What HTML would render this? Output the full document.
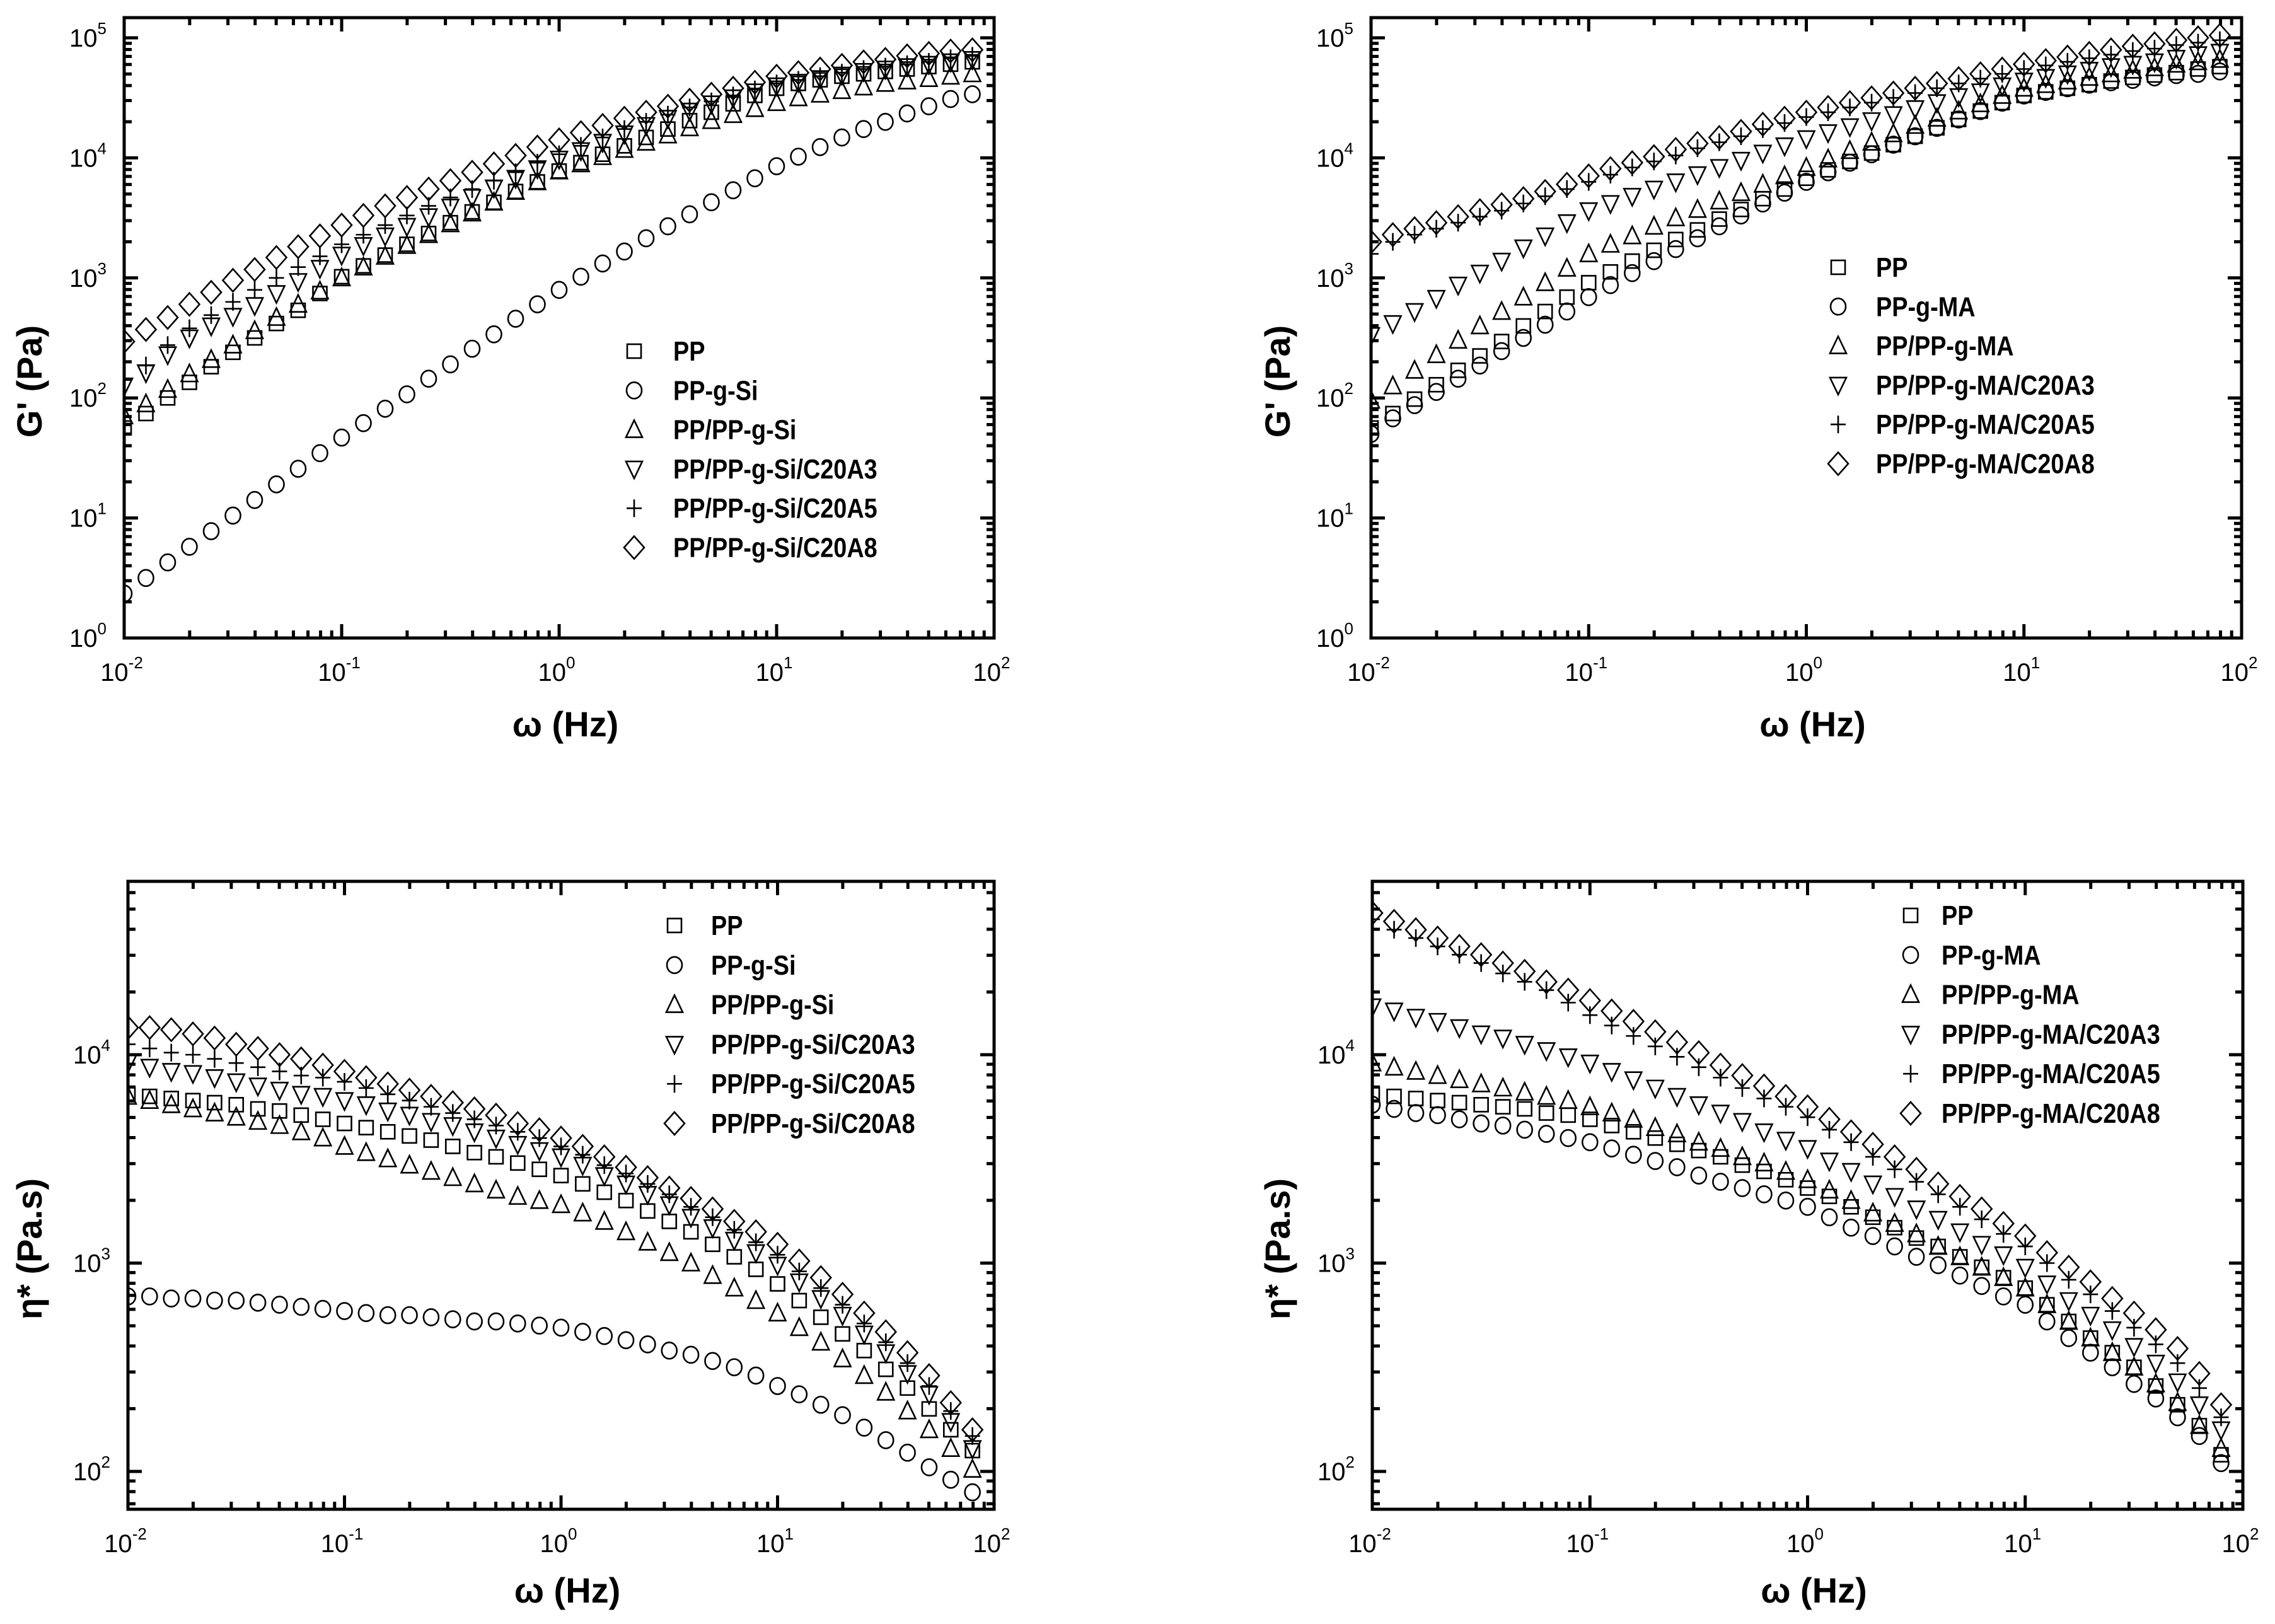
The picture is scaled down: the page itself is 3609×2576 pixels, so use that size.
<!DOCTYPE html>
<html><head><meta charset="utf-8">
<style>
html,body{margin:0;padding:0;background:#fff;}
svg{display:block;}
text{font-family:"Liberation Sans",sans-serif;fill:#000;}
</style></head>
<body>
<svg id="fig" width="3609" height="2576" viewBox="0 0 3609 2576" xmlns="http://www.w3.org/2000/svg"></svg>
<script>
// frequencies (log10 Hz)
const logFreq = [-2.0,-1.9,-1.8,-1.7,-1.6,-1.5,-1.4,-1.3,-1.2,-1.1,-1.0,-0.9,-0.8,-0.7,-0.6,-0.5,-0.4,-0.3,-0.2,-0.1,0.0,0.1,0.2,0.3,0.4,0.5,0.6,0.7,0.8,0.9,1.0,1.1,1.2,1.3,1.4,1.5,1.6,1.7,1.8,1.9];
const xTickExp = [-2,-1,0,1,2];

// Panel A: G' (log10 Pa), PP-g-Si series
const a_PP   = [1.75,1.87,2.0,2.13,2.26,2.38,2.5,2.62,2.73,2.87,3.01,3.1,3.19,3.28,3.37,3.46,3.55,3.63,3.72,3.8,3.89,3.96,4.03,4.1,4.17,4.24,4.31,4.38,4.45,4.52,4.58,4.62,4.65,4.68,4.7,4.72,4.74,4.76,4.78,4.8];
const a_Si   = [0.37,0.5,0.63,0.76,0.89,1.02,1.15,1.28,1.41,1.54,1.67,1.79,1.91,2.03,2.16,2.28,2.41,2.53,2.66,2.78,2.9,3.01,3.12,3.22,3.33,3.43,3.53,3.63,3.73,3.83,3.93,4.01,4.09,4.17,4.24,4.3,4.37,4.43,4.49,4.53];
const a_Bl   = [1.85,1.95,2.07,2.2,2.32,2.44,2.56,2.67,2.78,2.89,3.0,3.09,3.18,3.27,3.36,3.45,3.54,3.63,3.72,3.8,3.89,3.95,4.01,4.07,4.13,4.19,4.25,4.31,4.36,4.41,4.46,4.5,4.53,4.56,4.59,4.62,4.64,4.66,4.68,4.7];
const a_A3   = [2.1,2.21,2.36,2.5,2.6,2.68,2.77,2.87,2.97,3.08,3.19,3.27,3.35,3.43,3.51,3.59,3.67,3.75,3.83,3.91,3.99,4.06,4.13,4.2,4.27,4.33,4.39,4.45,4.5,4.55,4.6,4.63,4.66,4.69,4.72,4.74,4.76,4.78,4.8,4.82];
const a_A5   = [2.15,2.27,2.44,2.58,2.69,2.8,2.9,3.0,3.09,3.18,3.28,3.36,3.44,3.52,3.6,3.67,3.74,3.81,3.88,3.96,4.03,4.1,4.17,4.24,4.3,4.36,4.42,4.47,4.52,4.57,4.62,4.65,4.68,4.71,4.74,4.76,4.78,4.8,4.83,4.85];
const a_A8   = [2.47,2.57,2.67,2.78,2.88,2.98,3.07,3.17,3.26,3.35,3.44,3.52,3.6,3.67,3.74,3.81,3.88,3.95,4.02,4.09,4.15,4.21,4.27,4.33,4.38,4.43,4.48,4.53,4.58,4.63,4.68,4.71,4.74,4.77,4.8,4.82,4.85,4.87,4.89,4.9];

// Panel B: G' (log10 Pa), PP-g-MA series
const b_PP   = [1.75,1.87,1.99,2.11,2.23,2.35,2.47,2.6,2.72,2.84,2.96,3.05,3.14,3.23,3.32,3.4,3.49,3.57,3.66,3.74,3.83,3.9,3.97,4.04,4.11,4.18,4.25,4.32,4.39,4.46,4.52,4.55,4.58,4.61,4.64,4.67,4.69,4.71,4.74,4.76];
const b_MA   = [1.7,1.83,1.94,2.05,2.16,2.27,2.39,2.5,2.61,2.72,2.84,2.94,3.04,3.14,3.24,3.33,3.43,3.52,3.62,3.71,3.8,3.88,3.96,4.03,4.11,4.18,4.25,4.32,4.39,4.46,4.52,4.55,4.58,4.61,4.63,4.65,4.67,4.69,4.7,4.72];
const b_Bl   = [1.98,2.1,2.23,2.36,2.48,2.6,2.72,2.84,2.96,3.08,3.2,3.28,3.35,3.43,3.5,3.57,3.64,3.71,3.78,3.85,3.92,3.99,4.06,4.13,4.2,4.27,4.33,4.39,4.45,4.52,4.58,4.61,4.64,4.67,4.7,4.73,4.75,4.78,4.8,4.82];
const b_A3   = [2.52,2.62,2.72,2.83,2.94,3.04,3.14,3.25,3.35,3.46,3.56,3.62,3.68,3.74,3.8,3.86,3.92,3.98,4.04,4.1,4.16,4.21,4.26,4.31,4.36,4.41,4.46,4.51,4.55,4.6,4.64,4.67,4.7,4.73,4.76,4.78,4.8,4.83,4.86,4.88];
const b_A5   = [3.2,3.3,3.36,3.41,3.46,3.51,3.56,3.62,3.68,3.74,3.8,3.86,3.92,3.97,4.02,4.08,4.13,4.18,4.24,4.29,4.34,4.38,4.42,4.46,4.5,4.54,4.58,4.62,4.66,4.7,4.74,4.77,4.8,4.83,4.86,4.89,4.91,4.94,4.96,4.98];
const b_A8   = [3.3,3.36,3.41,3.46,3.51,3.56,3.61,3.66,3.72,3.78,3.85,3.91,3.96,4.01,4.07,4.12,4.17,4.22,4.28,4.33,4.38,4.42,4.46,4.5,4.54,4.58,4.62,4.66,4.7,4.74,4.78,4.81,4.84,4.87,4.9,4.93,4.95,4.98,5.0,5.02];

// Panel C: eta* (log10 Pa.s), PP-g-Si series
const c_PP   = [3.81,3.8,3.79,3.78,3.77,3.76,3.74,3.73,3.71,3.69,3.67,3.65,3.63,3.61,3.59,3.56,3.53,3.51,3.48,3.45,3.42,3.38,3.34,3.3,3.25,3.2,3.15,3.09,3.03,2.97,2.9,2.82,2.74,2.66,2.58,2.49,2.4,2.3,2.2,2.1];
const c_Si   = [2.84,2.84,2.83,2.83,2.82,2.82,2.81,2.8,2.79,2.78,2.77,2.76,2.75,2.75,2.74,2.73,2.72,2.72,2.71,2.7,2.69,2.67,2.65,2.63,2.61,2.58,2.56,2.53,2.5,2.46,2.41,2.37,2.32,2.27,2.21,2.15,2.09,2.02,1.96,1.9];
const c_Bl   = [3.8,3.78,3.76,3.74,3.72,3.7,3.68,3.66,3.63,3.6,3.56,3.53,3.5,3.47,3.44,3.41,3.38,3.35,3.32,3.3,3.28,3.24,3.2,3.15,3.1,3.05,3.0,2.94,2.88,2.82,2.76,2.69,2.62,2.54,2.46,2.38,2.29,2.2,2.11,2.01];
const c_A3   = [3.96,3.94,3.92,3.91,3.89,3.87,3.85,3.83,3.81,3.8,3.78,3.76,3.73,3.71,3.68,3.66,3.63,3.6,3.57,3.54,3.51,3.47,3.42,3.38,3.33,3.28,3.22,3.17,3.11,3.05,2.99,2.91,2.83,2.75,2.66,2.57,2.47,2.37,2.24,2.11];
const c_A5   = [4.05,4.03,4.01,4.0,3.98,3.96,3.94,3.92,3.9,3.89,3.87,3.84,3.81,3.78,3.75,3.72,3.69,3.66,3.63,3.6,3.56,3.52,3.47,3.43,3.38,3.33,3.27,3.22,3.16,3.1,3.04,2.96,2.88,2.8,2.71,2.62,2.52,2.41,2.29,2.17];
const c_A8   = [4.13,4.13,4.12,4.1,4.08,4.05,4.03,4.0,3.98,3.95,3.92,3.89,3.86,3.83,3.8,3.77,3.74,3.71,3.67,3.64,3.6,3.56,3.51,3.46,3.41,3.36,3.31,3.26,3.2,3.15,3.09,3.01,2.93,2.85,2.76,2.67,2.57,2.46,2.33,2.2];

// Panel D: eta* (log10 Pa.s), PP-g-MA series
const d_PP   = [3.81,3.8,3.79,3.78,3.77,3.76,3.75,3.74,3.72,3.71,3.69,3.66,3.63,3.6,3.57,3.54,3.51,3.47,3.44,3.4,3.36,3.32,3.27,3.22,3.17,3.12,3.08,3.03,2.98,2.93,2.88,2.8,2.72,2.64,2.57,2.5,2.41,2.32,2.22,2.08];
const d_MA   = [3.76,3.74,3.72,3.71,3.69,3.67,3.66,3.64,3.62,3.6,3.58,3.55,3.52,3.49,3.46,3.42,3.39,3.36,3.33,3.3,3.27,3.22,3.17,3.13,3.08,3.03,2.99,2.94,2.89,2.84,2.8,2.72,2.64,2.57,2.5,2.42,2.35,2.26,2.17,2.04];
const d_Bl   = [3.96,3.94,3.92,3.9,3.88,3.86,3.84,3.82,3.8,3.78,3.75,3.72,3.69,3.65,3.62,3.58,3.55,3.51,3.48,3.44,3.4,3.35,3.3,3.24,3.19,3.14,3.08,3.03,2.98,2.93,2.88,2.8,2.72,2.64,2.57,2.5,2.42,2.33,2.22,2.11];
const d_A3   = [4.23,4.21,4.18,4.16,4.13,4.1,4.08,4.05,4.02,3.99,3.96,3.92,3.88,3.84,3.8,3.76,3.72,3.68,3.63,3.59,3.55,3.49,3.44,3.38,3.32,3.26,3.21,3.15,3.09,3.04,2.98,2.9,2.82,2.75,2.68,2.6,2.52,2.43,2.32,2.2];
const d_A5   = [4.65,4.6,4.56,4.52,4.48,4.44,4.39,4.35,4.31,4.25,4.19,4.14,4.09,4.04,3.99,3.94,3.89,3.84,3.79,3.75,3.7,3.64,3.58,3.51,3.45,3.39,3.33,3.27,3.21,3.14,3.08,3.0,2.92,2.85,2.77,2.69,2.61,2.52,2.4,2.26];
const d_A8   = [4.68,4.64,4.6,4.56,4.52,4.48,4.44,4.4,4.35,4.31,4.26,4.21,4.16,4.11,4.06,4.01,3.95,3.9,3.85,3.8,3.75,3.69,3.63,3.57,3.51,3.45,3.38,3.32,3.26,3.19,3.13,3.05,2.98,2.91,2.83,2.76,2.68,2.59,2.47,2.32];

const legendSi = ["PP","PP-g-Si","PP/PP-g-Si","PP/PP-g-Si/C20A3","PP/PP-g-Si/C20A5","PP/PP-g-Si/C20A8"];
const legendMA = ["PP","PP-g-MA","PP/PP-g-MA","PP/PP-g-MA/C20A3","PP/PP-g-MA/C20A5","PP/PP-g-MA/C20A8"];
const gTickExp = [0,1,2,3,4,5];
const eTickExp = [2,3,4];

const NS = "http://www.w3.org/2000/svg";
const svg = document.getElementById('fig');
function mk(tag, attrs, parent){
  const e = document.createElementNS(NS, tag);
  for (const k in attrs) e.setAttribute(k, attrs[k]);
  (parent||svg).appendChild(e);
  return e;
}
const shapes = ["square","circle","up","down","plus","diamond"];
function marker(g, shape, x, y){
  const s = 12, st = {fill:"none", stroke:"#000", "stroke-width":2.6};
  let e;
  if (shape==="square") e = mk('rect', Object.assign({x:x-s+1,y:y-s+1,width:2*s-2,height:2*s-2}, st), g);
  else if (shape==="circle") e = mk('ellipse', Object.assign({cx:x,cy:y,rx:s,ry:s+1}, st), g);
  else if (shape==="up") e = mk('polygon', Object.assign({points:`${x},${y-s-3} ${x-s-1},${y+s} ${x+s+1},${y+s}`}, st), g);
  else if (shape==="down") e = mk('polygon', Object.assign({points:`${x},${y+s+3} ${x-s-1},${y-s} ${x+s+1},${y-s}`}, st), g);
  else if (shape==="plus") e = mk('path', Object.assign({d:`M${x-s} ${y}H${x+s}M${x} ${y-s-2}V${y+s+2}`}, st), g);
  else e = mk('polygon', Object.assign({points:`${x},${y-s-6} ${x+s+4},${y} ${x},${y+s+6} ${x-s-4},${y}`}, st), g);
  
  
  return e;
}

function panel(p){
  const g = mk('g', {});
  
  
  const X = v => p.x0 + (v - (-2)) / 4 * (p.x1 - p.x0);
  const Y = v => p.yRef - (v - p.refExp) * p.dec;
  const cid = 'clip-' + p.name;
  const cp = mk('clipPath', {id: cid}, g);
  mk('rect', {x:p.x0, y:p.yt, width:p.x1-p.x0, height:p.yb-p.yt}, cp);
  const sg = mk('g', {'clip-path':`url(#${cid})`}, g);
  p.series.forEach((arr, si) => {
    const gs = mk('g', {}, sg);
    
    
    arr.forEach((v, i) => marker(gs, shapes[si], X(logFreq[i]), Y(v)));
  });
  const fr = mk('rect', {x:p.x0, y:p.yt, width:p.x1-p.x0, height:p.yb-p.yt, fill:"none", stroke:"#000", "stroke-width":5}, g);
  
  
  let d = "";
  for (let e = -2; e <= 2; e++){
    for (let m = 1; m <= 9; m++){
      const lv = e + Math.log10(m);
      if (lv > 2.0001) break;
      const x = X(lv), L = m===1 ? 22 : 12;
      d += `M${x} ${p.yb}V${p.yb-L}M${x} ${p.yt}V${p.yt+L}`;
    }
  }
  for (let e = p.yMinExp; e <= p.yMaxExp; e++){
    for (let m = 1; m <= 9; m++){
      const lv = e + Math.log10(m);
      const y = Y(lv);
      if (y < p.yt-1 || y > p.yb+1) continue;
      const L = m===1 ? 22 : 12;
      d += `M${p.x0} ${y}H${p.x0+L}M${p.x1} ${y}H${p.x1-L}`;
    }
  }
  const tk = mk('path', {d:d, stroke:"#000", "stroke-width":5, fill:"none"}, g);
  
  
  xTickExp.forEach(e => {
    const t = mk('text', {x:X(e)-4, y:p.yb+68, "font-size":40, "text-anchor":"middle"}, g);
    
    
    t.textContent = "10";
    const s = mk('tspan', {dy:-20, "font-size":26}, t); s.textContent = String(e);
  });
  p.yTicks.forEach(e => {
    const t = mk('text', {x:p.x0-28, y:Y(e)+14, "font-size":40, "text-anchor":"end"}, g);
    
    
    t.textContent = "10";
    const s = mk('tspan', {dy:-20, "font-size":26}, t); s.textContent = String(e);
  });
  const xt = mk('text', {x:(p.x0+p.x1)/2+10, y:p.xTitleY, "font-size":56, "font-weight":"bold", "text-anchor":"middle"}, g);
  
  
  xt.textContent = "\u03c9 (Hz)";
  const cy = (p.yt+p.yb)/2 + 85;
  const yt = mk('text', {x:0, y:0, "font-size":56, "font-weight":"bold", "text-anchor":"middle", transform:`translate(${p.yTitleX},${cy}) rotate(-90)`}, g);
  
  
  yt.textContent = p.yTitle;
  const lg = mk('g', {}, g);
  
  
  p.legend.forEach((lab, i) => {
    const y = p.legY + i * p.legStep;
    const le = mk('g', {}, lg);
    
    
    marker(le, shapes[i], p.legMX, y);
    const t = mk('text', {x:0, y:0, "font-size":44, "font-weight":"bold", transform:`translate(${p.legTX},${y+15}) scale(0.86,1)`}, le);
    t.textContent = lab;
  });
}

panel({name:"panel-g-si", x0:197, x1:1577, yt:28, yb:1012, yRef:1012, refExp:0, dec:190.4, yMinExp:0, yMaxExp:5, yTicks:gTickExp,
  series:[a_PP,a_Si,a_Bl,a_A3,a_A5,a_A8], legend:legendSi, legMX:1006, legTX:1068, legY:557, legStep:62.3,
  xTitleY:1168, yTitleX:66, yTitle:"G' (Pa)"});
panel({name:"panel-g-ma", x0:2175, x1:3556, yt:28, yb:1012, yRef:1012, refExp:0, dec:190.4, yMinExp:0, yMaxExp:5, yTicks:gTickExp,
  series:[b_PP,b_MA,b_Bl,b_A3,b_A5,b_A8], legend:legendMA, legMX:2916, legTX:2976, legY:424, legStep:62.3,
  xTitleY:1168, yTitleX:2046, yTitle:"G' (Pa)"});
panel({name:"panel-eta-si", x0:203, x1:1577, yt:1398, yb:2394, yRef:2334, refExp:2, dec:330.5, yMinExp:1, yMaxExp:4, yTicks:eTickExp,
  series:[c_PP,c_Si,c_Bl,c_A3,c_A5,c_A8], legend:legendSi, legMX:1070, legTX:1128, legY:1468, legStep:62.8,
  xTitleY:2542, yTitleX:66, yTitle:"\u03b7* (Pa.s)"});
panel({name:"panel-eta-ma", x0:2177, x1:3558, yt:1398, yb:2394, yRef:2334, refExp:2, dec:330.5, yMinExp:1, yMaxExp:4, yTicks:eTickExp,
  series:[d_PP,d_MA,d_Bl,d_A3,d_A5,d_A8], legend:legendMA, legMX:3031, legTX:3080, legY:1452, legStep:62.8,
  xTitleY:2542, yTitleX:2046, yTitle:"\u03b7* (Pa.s)"});
</script>
</body></html>
